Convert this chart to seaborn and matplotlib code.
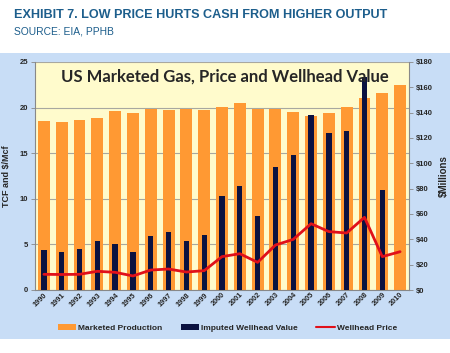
import numpy as np
import pandas as pd
import matplotlib
matplotlib.use('Agg')
import matplotlib.pyplot as plt
import seaborn as sns
from matplotlib.patches import Patch, Rectangle
from matplotlib.lines import Line2D
from matplotlib.ticker import StrMethodFormatter

# data
years = [str(y) for y in range(1990, 2011)]
production = [18.5, 18.4, 18.6, 18.9, 19.6, 19.4, 19.8, 19.7, 19.9, 19.7, 20.1,
              20.5, 19.85, 19.9, 19.5, 19.1, 19.4, 20.1, 21.05, 21.6, 22.5]   # TCF
value_years = years[:-1]
wellhead_value = [31.6, 30.2, 32.6, 38.9, 36.6, 30.2, 42.6, 46.0, 38.9, 43.2, 74.2,
                  82.1, 58.7, 97.3, 106.3, 138.0, 124.0, 125.8, 168.0, 79.2]   # $ millions
price = [1.72, 1.70, 1.72, 2.05, 1.94, 1.54, 2.19, 2.30, 1.97, 2.12, 3.66,
         3.98, 3.03, 4.93, 5.55, 7.27, 6.40, 6.25, 7.97, 3.66, 4.20]   # $/Mcf

orange = '#FF9933'
navy = '#0B1240'
red = '#E0101A'
panel = '#C8DDF6'
plotbg = '#FFFBCC'
bold = dict(fontweight='bold')

sns.set_style('white')
plt.rcParams['font.family'] = ['Liberation Sans', 'DejaVu Sans']

fig = plt.figure(figsize=(4.5, 3.53), dpi=100)
fig.patch.set_facecolor('white')
fig.patches.append(Rectangle((0, 1 - 339 / 353), 1, (339 - 53) / 353, transform=fig.transFigure,
                             facecolor=panel, edgecolor='none', zorder=-10))

fig.text(14 / 450, 1 - 15 / 353, 'EXHIBIT 7. LOW PRICE HURTS CASH FROM HIGHER OUTPUT',
         fontsize=9.1, color='#1D5E8C', va='center', ha='left', **bold)
fig.text(14 / 450, 1 - 31 / 353, 'SOURCE: EIA, PPHB', fontsize=7.4, color='#1D5E8C',
         va='center', ha='left')

rect = [35 / 450, 1 - 290 / 353, (409 - 35) / 450, (290 - 62) / 353]
ax = fig.add_axes(rect)
ax.set_facecolor(plotbg)
sns.barplot(x=years, y=production, color=orange, width=0.67, saturation=1, ax=ax,
            linewidth=0, zorder=2)
ax.set_ylim(0, 25)
ax.set_yticks(range(0, 26, 5))
ax.yaxis.grid(True, color='#A8A8A0', lw=0.8, zorder=0)
ax.set_axisbelow(True)
ax.set_ylabel('TCF and $/Mcf', fontsize=6.5, labelpad=6, **bold)
ax.tick_params(axis='y', labelsize=5.5, length=3, width=0.6, color='#888888', pad=2)
ax.tick_params(axis='x', labelsize=5.3, length=0, pad=1)
for lab in ax.get_xticklabels():
    lab.set_rotation(45)
    lab.set_ha('right')
    lab.set_rotation_mode('anchor')
    lab.set_fontweight('bold')
for lab in ax.get_yticklabels():
    lab.set_fontweight('bold')
for s in ['top', 'right']:
    ax.spines[s].set_visible(False)
for s in ['left', 'bottom']:
    ax.spines[s].set_color('#888888')
    ax.spines[s].set_linewidth(0.8)

ax2 = ax.twinx()
val_df = pd.DataFrame({'year': value_years, 'value': wellhead_value})
sns.barplot(data=val_df, x='year', y='value', order=years, color=navy, width=0.3,
            saturation=1, linewidth=0, ax=ax2)
ax2.set_ylim(0, 180)
ax2.set_yticks(range(0, 181, 20))
ax2.yaxis.set_major_formatter(StrMethodFormatter('${x:.0f}'))
ax2.set_ylabel('$Millions', fontsize=7, labelpad=4, **bold)
ax2.tick_params(axis='y', labelsize=5.5, length=3, width=0.6, color='#888888', pad=2)
for lab in ax2.get_yticklabels():
    lab.set_fontweight('bold')
for s in ['top', 'left', 'bottom']:
    ax2.spines[s].set_visible(False)
ax2.spines['right'].set_color('#888888')
ax2.spines['right'].set_linewidth(0.8)
ax2.set_xlabel('')

ax3 = ax.twinx()
sns.pointplot(x=years, y=price, color=red, markers='', linestyles='-', ax=ax3)
for ln in ax3.lines:
    ln.set_linewidth(2)
ax3.set_ylim(0, 25)
ax3.set_xlim(ax.get_xlim())
ax3.axis('off')

ax3.text(0.507, 0.97, 'US Marketed Gas, Price and Wellhead Value', transform=ax3.transAxes,
         ha='center', va='top', fontsize=12, family=['Lato', 'DejaVu Sans'], zorder=10,
         **bold)

handles = [Patch(facecolor=orange, edgecolor='none'),
           Patch(facecolor=navy, edgecolor='none'),
           Line2D([], [], color=red, lw=1.5)]
labels = ['Marketed Production', 'Imputed Wellhead Value', 'Wellhead Price']
fig.legend(handles, labels, loc='center', bbox_to_anchor=(0.505, 1 - 328 / 353), ncol=3,
           frameon=False, prop={'size': 6.0, 'weight': 'bold'}, handlelength=2.2,
           handleheight=0.6, handletextpad=0.25, columnspacing=2.2)

fig.savefig('out.png', dpi=100)
